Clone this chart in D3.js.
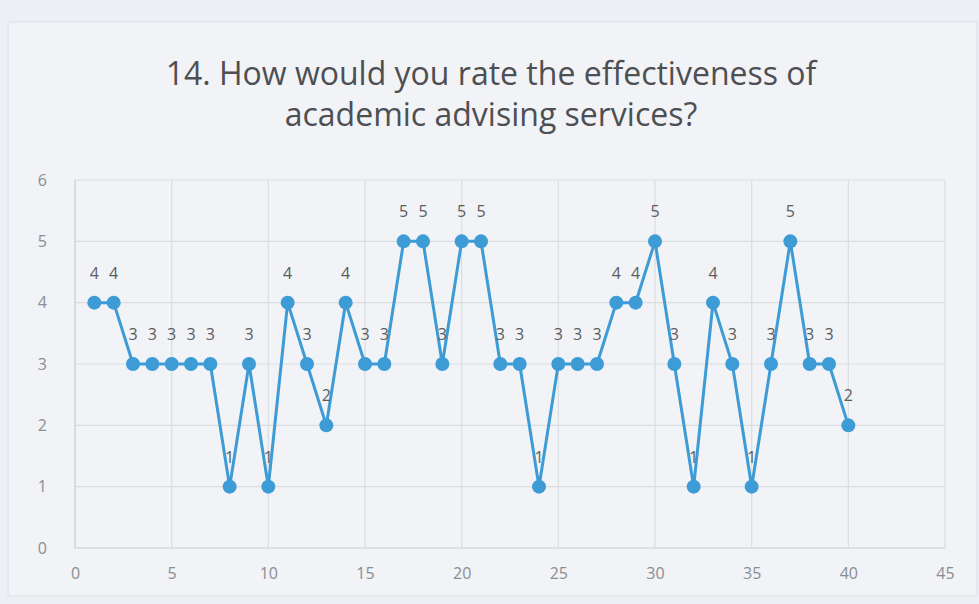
<!DOCTYPE html>
<html>
<head>
<meta charset="utf-8">
<script src="https://cdn.jsdelivr.net/npm/d3@7"></script>
<style>
  body { margin: 0; background: #eceff3; }
  svg { display: block; }
</style>
</head>
<body>
<div id="chart"></div>
<script>
// respondent number and their rating
const respondents = d3.range(1, 41);
const ratings = [4, 4, 3, 3, 3, 3, 3, 1, 3, 1,
                 4, 3, 2, 4, 3, 3, 5, 5, 3, 5,
                 5, 3, 3, 1, 3, 3, 3, 4, 4, 5,
                 3, 1, 4, 3, 1, 3, 5, 3, 3, 2];
const xTicks = [0, 5, 10, 15, 20, 25, 30, 35, 40, 45];
const yTicks = [0, 1, 2, 3, 4, 5, 6];
const titleLines = ["14. How would you rate the effectiveness of", "academic advising services?"];

const data = respondents.map((r, i) => ({x: r, y: ratings[i]}));

const w = 979, h = 604;
const padLeft = 75, padRight = 945, padTop = 180, padBottom = 548;

const svg = d3.select("#chart").append("svg")
    .attr("width", w)
    .attr("height", h);

svg.append("rect")
    .attr("x", 8).attr("y", 22)
    .attr("width", w - 10).attr("height", h - 30)
    .attr("fill", "#f1f3f6")
    .attr("stroke", "#dcdfe3");

const xScale = d3.scaleLinear().domain([0, 45]).range([padLeft, padRight]);
const yScale = d3.scaleLinear().domain([0, 6]).range([padBottom, padTop]);

// gridlines
svg.append("g")
    .selectAll("line")
    .data(yTicks)
    .enter()
    .append("line")
    .attr("x1", padLeft).attr("x2", padRight)
    .attr("y1", d => yScale(d)).attr("y2", d => yScale(d))
    .attr("stroke", d => d == 0 ? "#c9ccd0" : "#dadde1")
    .attr("stroke-width", 1.2);
svg.append("g")
    .selectAll("line")
    .data(xTicks)
    .enter()
    .append("line")
    .attr("x1", d => xScale(d)).attr("x2", d => xScale(d))
    .attr("y1", padTop).attr("y2", padBottom)
    .attr("stroke", d => d == 0 ? "#c9ccd0" : "#dadde1")
    .attr("stroke-width", 1.2);

const xAxis = d3.axisBottom(xScale).tickValues(xTicks).tickSize(0).tickPadding(20)
    .tickFormat(d3.format("d"));
const yAxis = d3.axisLeft(yScale).tickValues(yTicks).tickSize(0).tickPadding(28)
    .tickFormat(d3.format("d"));

svg.append("g")
    .attr("transform", "translate(0," + padBottom + ")")
    .call(xAxis)
    .call(g => g.select(".domain").remove())
    .selectAll("text")
    .attr("font-family", "Open Sans, sans-serif")
    .attr("font-size", "16px")
    .attr("fill", "#8a8d92");
svg.append("g")
    .attr("transform", "translate(" + padLeft + ",0)")
    .call(yAxis)
    .call(g => g.select(".domain").remove())
    .selectAll("text")
    .attr("font-family", "Open Sans, sans-serif")
    .attr("font-size", "16px")
    .attr("fill", "#8a8d92");

// title
svg.append("g")
    .selectAll("text")
    .data(titleLines)
    .enter()
    .append("text")
    .attr("x", 491)
    .attr("y", (d, i) => 85 + i * 41)
    .attr("text-anchor", "middle")
    .attr("font-family", "Open Sans, sans-serif")
    .attr("font-size", "32px")
    .attr("fill", "#4d4f53")
    .text(d => d);

// series
const line = d3.line().x(d => xScale(d.x)).y(d => yScale(d.y));
svg.append("path")
    .datum(data)
    .attr("d", line)
    .attr("fill", "none")
    .attr("stroke", "#3d9bd6")
    .attr("stroke-width", 3);

svg.append("g")
    .selectAll("circle")
    .data(data)
    .enter()
    .append("circle")
    .attr("cx", d => xScale(d.x))
    .attr("cy", d => yScale(d.y))
    .attr("r", 7)
    .attr("fill", "#3d9bd6");

svg.append("g")
    .selectAll("text")
    .data(data)
    .enter()
    .append("text")
    .attr("x", d => xScale(d.x))
    .attr("y", d => yScale(d.y) - 24)
    .attr("text-anchor", "middle")
    .attr("font-family", "Open Sans, sans-serif")
    .attr("font-size", "16px")
    .attr("fill", "#5a5c60")
    .text(d => d.y);
</script>
</body>
</html>
